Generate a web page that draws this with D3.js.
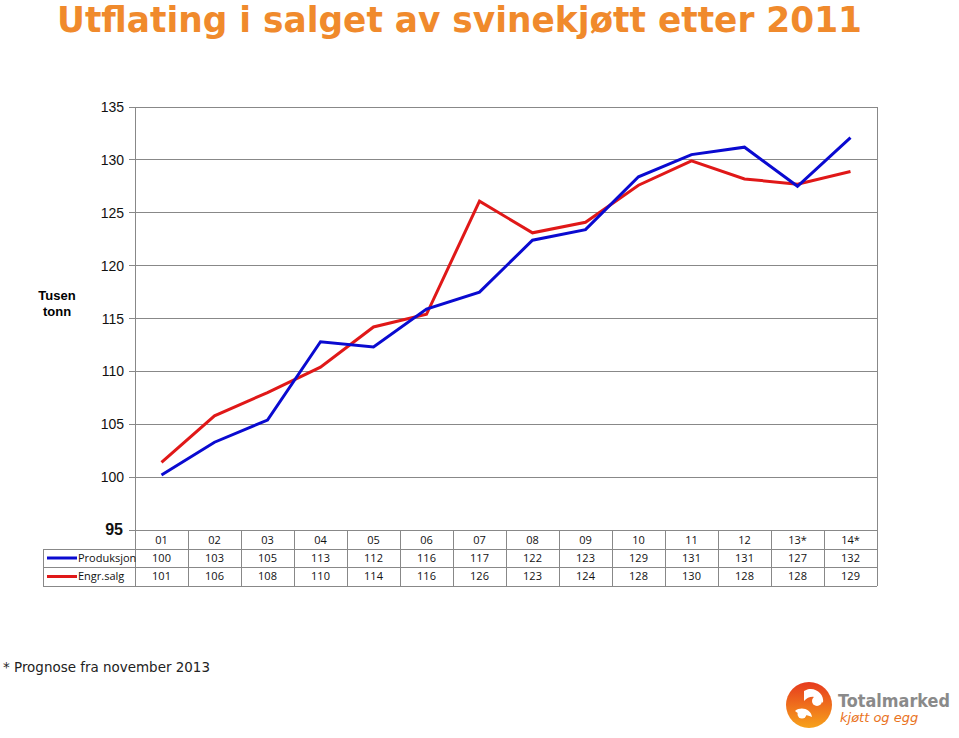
<!DOCTYPE html>
<html><head><meta charset="utf-8">
<script src="https://cdn.jsdelivr.net/npm/d3@7"></script>
<style>body{margin:0;background:#fff}svg{display:block}</style>
</head><body>
<script>
const categories = ["01","02","03","04","05","06","07","08","09","10","11","12","13*","14*"];
const produksjon = [100.2,103.3,105.4,112.8,112.3,115.9,117.5,122.4,123.4,128.4,130.5,131.2,127.5,132.1];
const engrsalg = [101.4,105.8,108.0,110.4,114.2,115.4,126.1,123.1,124.1,127.6,129.9,128.2,127.7,128.9];
const produksjonLabels = ["100","103","105","113","112","116","117","122","123","129","131","131","127","132"];
const engrsalgLabels = ["101","106","108","110","114","116","126","123","124","128","130","128","128","129"];
const yTicks = [95,100,105,110,115,120,125,130,135];
const seriesNames = ["Produksjon","Engr.salg"];
const colors = ["#0a0ad0","#e01818"];

const W=959,H=738;
const svg=d3.select("body").append("svg").attr("width",W).attr("height",H);
const L=135,R=877,T=107,B=530;
const x=d3.scaleBand().domain(categories).range([L,R]);
const y=d3.scaleLinear().domain([95,135]).range([B,T]);

// title
svg.append("text").attr("x",57).attr("y",32).attr("font-family","DejaVu Sans").attr("font-weight","bold")
 .attr("font-size",35).attr("fill","#f08a2c").attr("textLength",805).attr("lengthAdjust","spacingAndGlyphs")
 .text("Utflating i salget av svinekjøtt etter 2011");

// gridlines
const g=svg.append("g");
g.selectAll("line.grid").data(yTicks).join("line").attr("x1",L-6).attr("x2",R)
 .attr("y1",d=>y(d)).attr("y2",d=>y(d)).attr("stroke","#888").attr("stroke-width",1).attr("shape-rendering","crispEdges");
g.append("line").attr("x1",L).attr("x2",L).attr("y1",T).attr("y2",B).attr("stroke","#888").attr("shape-rendering","crispEdges");
g.append("line").attr("x1",R).attr("x2",R).attr("y1",T).attr("y2",B).attr("stroke","#888").attr("shape-rendering","crispEdges");
g.selectAll("text.yl").data(yTicks).join("text").attr("x",d=>d===95?123:124).attr("y",d=>y(d)+5)
 .attr("text-anchor","end").attr("font-family","Liberation Sans, Arial").attr("font-size",d=>d===95?16:14)
 .attr("font-weight",d=>d===95?"bold":"normal").attr("fill","#111").text(d=>d);
svg.append("text").attr("x",57).attr("y",300).attr("text-anchor","middle").attr("font-family","Liberation Sans, Arial")
 .attr("font-weight","bold").attr("font-size",13).text("Tusen");
svg.append("text").attr("x",57).attr("y",316).attr("text-anchor","middle").attr("font-family","Liberation Sans, Arial")
 .attr("font-weight","bold").attr("font-size",13).text("tonn");

// lines
const line=d3.line().x((d,i)=>x(categories[i])+x.bandwidth()/2).y(d=>y(d));
[engrsalg,produksjon].forEach((s,k)=>{
  svg.append("path").datum(s).attr("d",line).attr("fill","none").attr("stroke",k===0?colors[1]:colors[0])
   .attr("stroke-width",3).attr("stroke-linejoin","miter");
});

// table
const rowY=[530,549,567,586];
const tg=svg.append("g").attr("font-family","Open Sans, Liberation Sans").attr("font-size",11).attr("fill","#111");
const lineStyle=sel=>sel.attr("stroke","#888").attr("stroke-width",1).attr("shape-rendering","crispEdges");
tg.append("line").attr("x1",43).attr("x2",R).attr("y1",rowY[1]).attr("y2",rowY[1]).call(lineStyle);
tg.append("line").attr("x1",43).attr("x2",R).attr("y1",rowY[2]).attr("y2",rowY[2]).call(lineStyle);
tg.append("line").attr("x1",43).attr("x2",R).attr("y1",rowY[3]).attr("y2",rowY[3]).call(lineStyle);
tg.append("line").attr("x1",43).attr("x2",43).attr("y1",rowY[1]).attr("y2",rowY[3]).call(lineStyle);
const bounds=categories.map(c=>x(c)).concat([R]);
tg.selectAll("line.v").data(bounds).join("line").attr("x1",d=>d).attr("x2",d=>d).attr("y1",rowY[0]).attr("y2",rowY[3]).call(lineStyle);
tg.selectAll("text.c").data(categories).join("text").attr("x",d=>x(d)+x.bandwidth()/2).attr("y",rowY[0]+14)
 .attr("text-anchor","middle").text(d=>d);
[produksjonLabels,engrsalgLabels].forEach((arr,r)=>{
  tg.selectAll(null).data(arr).join("text").attr("x",(d,i)=>x(categories[i])+x.bandwidth()/2).attr("y",rowY[r+1]+13)
   .attr("text-anchor","middle").text(d=>d);
  const cy=(rowY[r+1]+rowY[r+2])/2;
  tg.append("line").attr("x1",47).attr("x2",77).attr("y1",cy).attr("y2",cy).attr("stroke",colors[r]).attr("stroke-width",3);
  tg.append("text").attr("x",78).attr("y",rowY[r+1]+13).text(seriesNames[r]);
});

// footnote
svg.append("text").attr("x",3).attr("y",672).attr("font-family","DejaVu Sans").attr("font-size",14).attr("fill","#222")
 .attr("textLength",207).attr("lengthAdjust","spacingAndGlyphs")
 .text("* Prognose fra november 2013");

// logo
const lg=svg.append("g").attr("transform","translate(809,705)");
const grad=svg.append("defs").append("linearGradient").attr("id","lgrad").attr("x1","0").attr("y1","0").attr("x2","0").attr("y2","1");
grad.append("stop").attr("offset","0").attr("stop-color","#e63a1e");
grad.append("stop").attr("offset","1").attr("stop-color","#f7a21b");
lg.append("circle").attr("r",23).attr("fill","url(#lgrad)");
lg.append("path").attr("d","M-5,-14 C4,-20 16,-12 14,-2 C9,-10 0,-10 -5,-4 Z").attr("fill","#fff");
lg.append("path").attr("d","M-14,6 C-8,1 2,4 3,12 C-4,9 -10,10 -14,6 Z").attr("fill","#fff");
lg.append("circle").attr("cx",8).attr("cy",-4).attr("r",5).attr("fill","#fff");
lg.append("circle").attr("cx",-7).attr("cy",9).attr("r",4.5).attr("fill","#fff");
svg.append("text").attr("x",838).attr("y",707).attr("font-family","DejaVu Sans").attr("font-weight","bold")
 .attr("font-size",17).attr("fill","#8a8a8a").attr("textLength",112).attr("lengthAdjust","spacingAndGlyphs").text("Totalmarked");
svg.append("text").attr("x",840).attr("y",722).attr("font-family","DejaVu Sans").attr("font-style","italic")
 .attr("font-size",13).attr("fill","#e9731e").text("kjøtt og egg");
</script>
</body></html>
